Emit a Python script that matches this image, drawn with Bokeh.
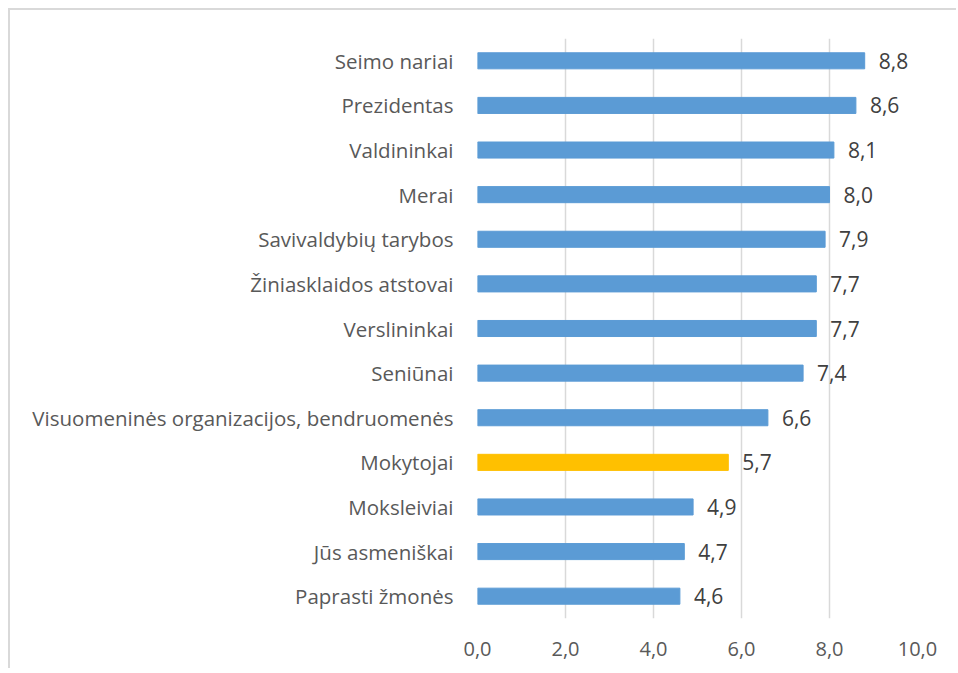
from bokeh.plotting import figure
from bokeh.models import ColumnDataSource, FactorRange, Range1d, FixedTicker
from bokeh.embed import file_html
from bokeh.resources import INLINE
from bokeh.core.properties import value

categories = [
    "Seimo nariai",
    "Prezidentas",
    "Valdininkai",
    "Merai",
    "Savivaldybių tarybos",
    "Žiniasklaidos atstovai",
    "Verslininkai",
    "Seniūnai",
    "Visuomeninės organizacijos, bendruomenės",
    "Mokytojai",
    "Moksleiviai",
    "Jūs asmeniškai",
    "Paprasti žmonės",
]
values = [8.8, 8.6, 8.1, 8.0, 7.9, 7.7, 7.7, 7.4, 6.6, 5.7, 4.9, 4.7, 4.6]
highlight = "Mokytojai"
x_ticks = [0, 2, 4, 6, 8, 10]
x_tick_labels = ["0,0", "2,0", "4,0", "6,0", "8,0", "10,0"]

FONT = "Open Sans"
BLUE = "#5B9BD5"
GOLD = "#FFC000"

colors = [GOLD if c == highlight else BLUE for c in categories]
labels = [f"{v:.1f}".replace(".", ",") for v in values]
src = ColumnDataSource(dict(cat=categories, val=values, color=colors, label=labels))

p = figure(
    width=948, height=660,
    y_range=FactorRange(factors=list(reversed(categories)), range_padding=0),
    x_range=Range1d(0, 10),
    output_backend="svg", toolbar_location=None,
    min_border_left=467, min_border_right=41, min_border_top=28, min_border_bottom=52,
)
p.styles = {"margin-left": "8px", "margin-top": "8px",
            "border-left": "2px solid #D9D9D9", "border-top": "2px solid #D9D9D9"}
p.outline_line_color = None

p.hbar(y="cat", left=0, right="val", height=0.36, color="color", source=src)
p.text(x="val", y="cat", text="label", source=src, x_offset=14,
       text_baseline="middle", text_align="left", text_color="#404040",
       text_font=value(FONT), text_font_size="21px")

p.xgrid.ticker = FixedTicker(ticks=x_ticks)
p.xgrid.grid_line_color = "#D9D9D9"
p.xgrid.grid_line_width = 1.5
p.ygrid.grid_line_color = None

p.xaxis.ticker = FixedTicker(ticks=x_ticks)
p.xaxis.major_label_overrides = {t: l for t, l in zip(x_ticks, x_tick_labels)}
p.xaxis.axis_line_color = None
p.xaxis.major_tick_line_color = None
p.xaxis.minor_tick_line_color = None
p.xaxis.major_label_standoff = 17
p.xaxis.major_label_text_font = FONT
p.xaxis.major_label_text_font_size = "20px"
p.xaxis.major_label_text_color = "#595959"

p.yaxis.axis_line_color = None
p.yaxis.major_tick_line_color = None
p.yaxis.minor_tick_line_color = None
p.yaxis.major_label_standoff = 18
p.yaxis.major_label_text_font = FONT
p.yaxis.major_label_text_font_size = "20.5px"
p.yaxis.major_label_text_color = "#595959"

open("out.html", "w").write(file_html(p, INLINE))
